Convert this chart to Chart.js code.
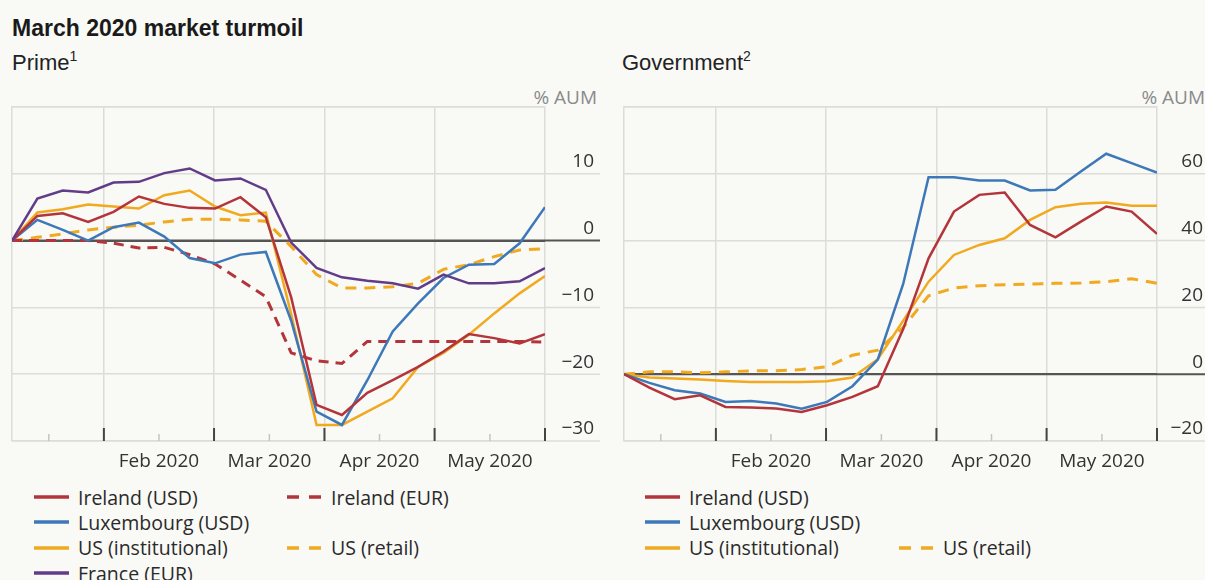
<!DOCTYPE html>
<html>
<head>
<meta charset="utf-8">
<script src="https://cdn.jsdelivr.net/npm/chart.js@4.4.1/dist/chart.umd.min.js"></script>
<style>
  body { margin: 0; width: 1205px; height: 580px; overflow: hidden; background: #f9f9f6; position: relative; font-family: 'Open Sans', sans-serif; color: #222; }
  .title { position: absolute; left: 12px; top: 15px; line-height: 24px; font: bold 23px 'Liberation Sans', Arial, sans-serif; color: #1a1a1a; white-space: nowrap; }
  .sub { position: absolute; top: 50px; line-height: 22px; font: 22px 'Liberation Sans', Arial, sans-serif; color: #222; white-space: nowrap; }
  .sub sup { font-size: 14px; position: relative; top: -1px; vertical-align: top; line-height: 14px; }
  .unit { position: absolute; top: 84px; line-height: 26px; font-size: 19px; color: #8a8a8a; white-space: nowrap; text-align: right; }
  canvas { position: absolute; top: 80px; }
  .lg { position: absolute; height: 26px; display: flex; align-items: center; font-size: 19.5px; color: #2a2a2a; white-space: nowrap; }
  .lg svg { margin-right: 9px; }
</style>
</head>
<body>
<div class="title">March 2020 market turmoil</div>
<div class="sub" style="left:12px">Prime<sup>1</sup></div>
<div class="sub" style="left:622px">Government<sup>2</sup></div>
<div class="unit" style="right:608px">% AUM</div>
<div class="unit" style="right:0">% AUM</div>
<canvas id="prime" width="600" height="400" style="left:0"></canvas>
<canvas id="gov" width="593" height="400" style="left:612px"></canvas>
<div id="legends"></div>
<script>
// weekly observations, Jan to end May 2020 (x = week number)
const weeks = [0, 1, 2, 3, 4, 5, 6, 7, 8, 9, 10, 11, 12, 13, 14, 15, 16, 17, 18, 19, 20, 21];
const monthEdges = [3.62, 7.96, 12.31, 16.65, 21];
const monthMids = [1.45, 5.79, 10.14, 14.48, 18.83];
const monthLabels = ['', 'Feb 2020', 'Mar 2020', 'Apr 2020', 'May 2020'];

// Prime funds, % AUM
const primeIeUsd = [0, 3.7, 4.1, 2.8, 4.3, 6.6, 5.5, 4.9, 4.8, 6.5, 3.5, -8.5, -24.6, -26.1, -22.8, -20.9, -18.9, -16.6, -14.0, -14.6, -15.4, -14.0];
const primeLuxUsd = [0, 3.1, 1.6, 0.0, 2.0, 2.7, 0.6, -2.6, -3.4, -2.1, -1.7, -12, -25.6, -27.6, -20.9, -13.6, -9.4, -5.6, -3.6, -3.5, -0.4, 5.0];
const primeUsInst = [0, 4.2, 4.7, 5.4, 5.1, 4.8, 6.8, 7.5, 5.1, 3.8, 4.2, -11, -27.6, -27.6, -25.6, -23.6, -18.9, -16.8, -14.1, -10.9, -7.9, -5.3];
const primeFrEur = [0, 6.3, 7.5, 7.2, 8.7, 8.8, 10.1, 10.8, 9.0, 9.3, 7.6, -0.3, -4.1, -5.5, -6.0, -6.4, -7.2, -5.1, -6.4, -6.4, -6.1, -4.1];
const primeIeEur = [0, 0, 0, 0, -0.4, -1.1, -1.0, -2.1, -3.5, -5.9, -8.4, -16.8, -18.0, -18.4, -15.1, -15.1, -15.1, -15.1, -15.1, -15.1, -15.1, -15.2];
const primeUsRetail = [0, 0.5, 1.0, 1.6, 2.0, 2.3, 2.8, 3.2, 3.2, 3.1, 2.9, -0.9, -5.1, -7.1, -7.1, -6.9, -6.4, -4.3, -3.6, -2.4, -1.4, -1.2];

// Government funds, % AUM
const govIeUsd = [0, -4.0, -7.5, -6.3, -9.8, -10.0, -10.3, -11.3, -9.3, -6.8, -3.6, 13.5, 34.7, 48.7, 53.7, 54.4, 44.7, 41.0, 45.7, 50.2, 48.7, 42.0];
const govLuxUsd = [0, -2.6, -4.8, -5.8, -8.3, -8.0, -8.8, -10.3, -8.3, -3.6, 4.4, 27, 59.0, 59.0, 58.0, 58.0, 55.0, 55.2, 60.7, 66.0, 63.2, 60.4];
const govUsInst = [0, -1.0, -1.3, -1.6, -2.0, -2.3, -2.3, -2.3, -2.1, -1.0, 4.5, 16, 27.7, 35.7, 38.7, 40.7, 46.2, 50.0, 51.0, 51.4, 50.4, 50.4];
const govUsRetail = [0, 0.7, 0.7, 0.4, 0.7, 1.0, 1.0, 1.4, 2.2, 5.7, 7.2, 14, 23.5, 25.8, 26.5, 26.8, 27.0, 27.2, 27.3, 27.7, 28.6, 27.2];

const RED = '#b3353b', BLUE = '#3d78b8', YELLOW = '#f1a91f', PURPLE = '#633c89';
const GRID = '#dcdcd8', ZERO = '#555555', TICKMARK = '#444444';

Chart.defaults.font.family = "'Open Sans', sans-serif";
Chart.defaults.font.size = 19;

const fmt = v => v < 0 ? '\u2212' + Math.abs(v) : String(v);

// grid lines carry on under the tick labels, month marks sit inside the bottom edge
const gridExtras = {
    id: 'gridExtras',
    beforeDatasetsDraw(chart) {
        const { ctx, chartArea: a } = chart;
        const y = chart.scales.y;
        const xg = chart.scales.xg;
        ctx.save();
        y.ticks.forEach(t => {
            if (t.value === y.max) return;
            const py = y.getPixelForValue(t.value);
            ctx.beginPath();
            ctx.strokeStyle = t.value === 0 ? ZERO : GRID;
            ctx.lineWidth = t.value === 0 ? 2 : 1.5;
            ctx.moveTo(t.value === 0 ? a.left : a.right, py);
            ctx.lineTo(chart.width, py);
            ctx.stroke();
        });
        ctx.strokeStyle = '#c4c4c0';
        ctx.lineWidth = 1.5;
        monthMids.forEach(v => {
            const px = xg.getPixelForValue(v);
            ctx.beginPath();
            ctx.moveTo(px, a.bottom);
            ctx.lineTo(px, a.bottom - 7);
            ctx.stroke();
        });
        ctx.strokeStyle = TICKMARK;
        ctx.lineWidth = 2;
        monthEdges.forEach(v => {
            const px = xg.getPixelForValue(v);
            ctx.beginPath();
            ctx.moveTo(px, a.bottom);
            ctx.lineTo(px, a.bottom - 13);
            ctx.stroke();
        });
        ctx.restore();
    }
};

function buildChart(id, series, yMin, yMax, yStep, padRight) {
    const canvas = document.getElementById(id);
    const axisWidth = canvas.width - padRight - 545;
    return new Chart(canvas, {
        type: 'line',
        data: {
            datasets: series.map(s => ({
                label: s.label,
                data: s.values.map((v, i) => ({ x: weeks[i], y: v })),
                borderColor: s.color,
                borderWidth: s.dash ? 3 : 2.5,
                borderDash: s.dash || [],
                pointRadius: 0,
                tension: 0,
                fill: false
            }))
        },
        options: {
            responsive: false,
            animation: false,
            layout: { padding: { left: 12, right: padRight, top: 0, bottom: 0 } },
            plugins: { legend: { display: false }, tooltip: { enabled: false } },
            scales: {
                xg: {
                    type: 'linear', position: 'top', min: weeks[0], max: weeks[weeks.length - 1],
                    afterBuildTicks: sc => { sc.ticks = [weeks[0], ...monthEdges].map(v => ({ value: v })); },
                    afterFit: sc => { sc.height = 27; },
                    ticks: { display: false },
                    grid: { color: GRID, lineWidth: 1.5, drawTicks: false },
                    border: { color: GRID, width: 1.5 }
                },
                x: {
                    type: 'linear', position: 'bottom', min: weeks[0], max: weeks[weeks.length - 1],
                    afterBuildTicks: sc => { sc.ticks = monthMids.map(v => ({ value: v })); },
                    afterFit: sc => { sc.height = 39; },
                    ticks: { callback: (v, i) => monthLabels[i], autoSkip: false, maxRotation: 0, padding: 9, color: '#333' },
                    grid: { display: false, drawTicks: false },
                    border: { color: GRID, width: 1.5 }
                },
                y: {
                    position: 'right', min: yMin, max: yMax,
                    afterFit: sc => { sc.width = axisWidth; },
                    ticks: {
                        stepSize: yStep,
                        callback: v => v === yMax ? '' : fmt(v),
                        color: '#333',
                        crossAlign: 'far',
                        padding: 0,
                        labelOffset: -12
                    },
                    grid: {
                        drawTicks: false,
                        color: ctx => ctx.tick && ctx.tick.value === 0 ? ZERO : GRID,
                        lineWidth: ctx => ctx.tick && ctx.tick.value === 0 ? 2 : 1.5
                    },
                    border: { display: false }
                }
            }
        },
        plugins: [gridExtras]
    });
}

const primeSeries = [
    { label: 'France (EUR)', values: primeFrEur, color: PURPLE },
    { label: 'Ireland (USD)', values: primeIeUsd, color: RED },
    { label: 'Luxembourg (USD)', values: primeLuxUsd, color: BLUE },
    { label: 'US (institutional)', values: primeUsInst, color: YELLOW },
    { label: 'Ireland (EUR)', values: primeIeEur, color: RED, dash: [10, 7] },
    { label: 'US (retail)', values: primeUsRetail, color: YELLOW, dash: [11, 8] }
];
const govSeries = [
    { label: 'Ireland (USD)', values: govIeUsd, color: RED },
    { label: 'Luxembourg (USD)', values: govLuxUsd, color: BLUE },
    { label: 'US (institutional)', values: govUsInst, color: YELLOW },
    { label: 'US (retail)', values: govUsRetail, color: YELLOW, dash: [11, 8] }
];

buildChart('prime', primeSeries, -30, 20, 10, 6);
buildChart('gov', govSeries, -20, 80, 20, 2);

// legends: [label, left px, row]
const primeLegend = [['Ireland (USD)', 34, 0], ['Luxembourg (USD)', 34, 1], ['US (institutional)', 34, 2], ['France (EUR)', 34, 3], ['Ireland (EUR)', 287, 0], ['US (retail)', 287, 2]];
const govLegend = [['Ireland (USD)', 645, 0], ['Luxembourg (USD)', 645, 1], ['US (institutional)', 645, 2], ['US (retail)', 899, 2]];

function addLegend(slots, series) {
    const holder = document.getElementById('legends');
    slots.forEach(([label, left, row]) => {
        const s = series.find(d => d.label === label);
        const el = document.createElement('div');
        el.className = 'lg';
        el.style.left = left + 'px';
        el.style.top = (484 + row * 25.4) + 'px';
        const dash = s.dash ? 'stroke-dasharray="12 10"' : '';
        el.innerHTML = `<svg width="35" height="6"><line x1="0" y1="3" x2="35" y2="3" stroke="${s.color}" stroke-width="3.5" ${dash}/></svg><span>${label}</span>`;
        holder.appendChild(el);
    });
}
addLegend(primeLegend, primeSeries);
addLegend(govLegend, govSeries);
</script>
</body>
</html>
